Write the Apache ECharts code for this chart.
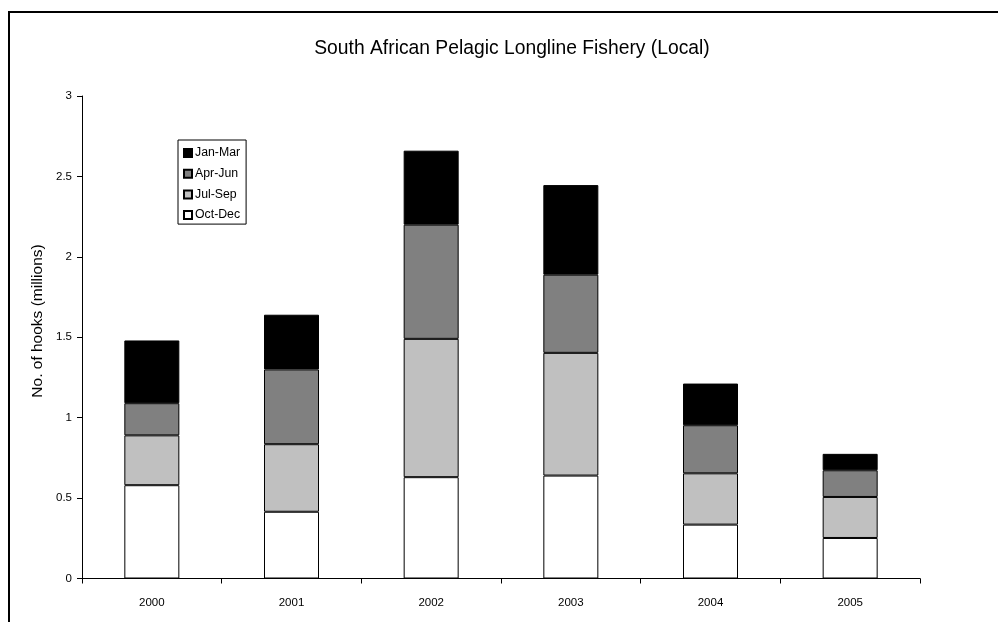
<!DOCTYPE html>
<html>
<head>
<meta charset="utf-8">
<script src="https://cdn.jsdelivr.net/npm/echarts@6/dist/echarts.min.js"></script>
<style>html,body{margin:0;padding:0;background:#fff}#c{width:998px;height:622px}</style>
</head>
<body>
<div id="c"></div>
<script>
const years = ['2000', '2001', '2002', '2003', '2004', '2005'];
const octDec = [0.58, 0.415, 0.63, 0.64, 0.335, 0.252];
const julSep = [0.31, 0.42, 0.86, 0.763, 0.319, 0.255];
const aprJun = [0.20, 0.465, 0.71, 0.486, 0.299, 0.166];
const janMar = [0.39, 0.34, 0.46, 0.557, 0.259, 0.102];
const yTicks = [0, 0.5, 1, 1.5, 2, 2.5, 3];

const font = 'Liberation Sans, Arial, sans-serif';
const chart = echarts.init(document.getElementById('c'));
function bar(name, data, color) {
  return {
    name: name, type: 'bar', stack: 'total', data: data,
    barWidth: 55,
    itemStyle: { color: color, borderColor: '#000', borderWidth: 1 },
    emphasis: { disabled: true }
  };
}
chart.setOption({
  animation: false,
  backgroundColor: '#fff',
  title: {
    text: 'South African Pelagic Longline Fishery (Local)',
    left: 507, top: 34, textAlign: 'center',
    textStyle: { fontFamily: font, fontSize: 19.3, fontWeight: 'normal', color: '#000' }
  },
  legend: {
    orient: 'vertical', left: 178, top: 140,
    data: ['Jan-Mar', 'Apr-Jun', 'Jul-Sep', 'Oct-Dec'],
    itemWidth: 8, itemHeight: 8, itemGap: 8.7, icon: 'rect',
    padding: [7, 6, 3, 5],
    borderColor: '#000', borderWidth: 1, borderRadius: 0,
    textStyle: { fontFamily: font, fontSize: 12.3, color: '#000', padding: [0, 0, 0, -2] }
  },
  grid: { left: 82, right: 78, top: 96, bottom: 43.5 },
  xAxis: {
    type: 'category', data: years,
    axisLine: { lineStyle: { color: '#000', width: 1 } },
    axisTick: { show: true, length: 5, lineStyle: { color: '#000' } },
    axisLabel: { fontFamily: font, fontSize: 11.5, color: '#000', margin: 18 }
  },
  yAxis: {
    type: 'value', min: 0, max: 3, interval: 0.5,
    axisLine: { show: true, lineStyle: { color: '#000', width: 1 } },
    axisTick: { show: true, length: 5, lineStyle: { color: '#000' } },
    axisLabel: { fontFamily: font, fontSize: 11.5, color: '#000', margin: 10,
      formatter: v => yTicks.includes(v) ? String(v) : '' },
    splitLine: { show: false }
  },
  series: [
    bar('Oct-Dec', octDec, '#ffffff'),
    bar('Jul-Sep', julSep, '#c0c0c0'),
    bar('Apr-Jun', aprJun, '#808080'),
    bar('Jan-Mar', janMar, '#000000')
  ],
  graphic: [
    { type: 'polyline', shape: { points: [[9, 622], [9, 12], [998, 12]] },
      style: { stroke: '#000', lineWidth: 2, fill: null }, silent: true },
    { type: 'text', x: 38, y: 321, rotation: Math.PI / 2, silent: true,
      style: { text: 'No. of hooks (millions)', fontFamily: font, fontSize: 15.5,
        fill: '#000', align: 'center', verticalAlign: 'middle' } }
  ]
});
</script>
</body>
</html>
